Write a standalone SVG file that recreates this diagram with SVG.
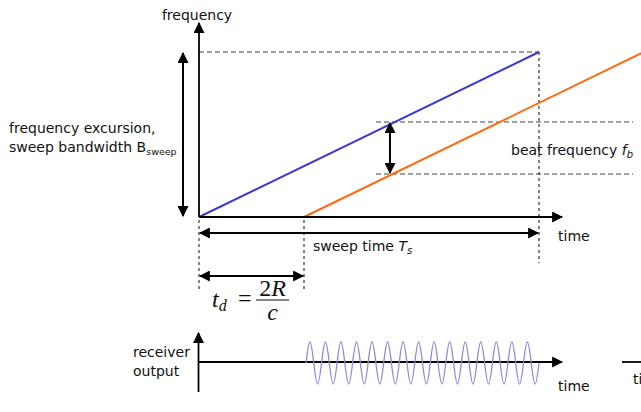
<svg xmlns="http://www.w3.org/2000/svg" width="641" height="412" viewBox="0 0 641 412">
<style>
.t{font-family:"DejaVu Sans",Verdana,sans-serif;font-size:14px;fill:#111}
.it{font-style:italic}
.ax{stroke:#000;stroke-width:1.8;fill:none}
.dash{stroke:#444;stroke-width:1.2;stroke-dasharray:5,3;fill:none}
.vdash{stroke:#222;stroke-width:1.1;stroke-dasharray:3,3;fill:none}
.arr{stroke:#000;stroke-width:2;fill:none}
.m{font-family:"Liberation Serif","Times New Roman",serif;font-size:24px;fill:#111}
</style>
<defs>
<marker id="ah2" viewBox="0 0 10 10" refX="9" refY="5" markerWidth="11" markerHeight="11" orient="auto-start-reverse" markerUnits="userSpaceOnUse">
<path d="M0,0 L10,5 L0,10 z" fill="#000"/>
</marker>
</defs>
<rect width="641" height="412" fill="#fff"/>
<g id="connectors">
<line class="dash" x1="199" y1="52" x2="539" y2="52"/>
<line class="vdash" x1="539" y1="52" x2="539" y2="263"/>
<line class="dash" x1="376" y1="122" x2="633" y2="122"/>
<line class="dash" x1="376" y1="174" x2="633" y2="174"/>
<line class="vdash" x1="199" y1="220" x2="199" y2="289"/>
<line class="vdash" x1="304" y1="220" x2="304" y2="289"/>
<line x1="199" y1="217" x2="539" y2="52" stroke="#3a3acc" stroke-width="2"/>
<line x1="304" y1="217" x2="645" y2="51.5" stroke="#ff6a10" stroke-width="2"/>
<line class="ax" x1="199" y1="217" x2="199" y2="23" marker-end="url(#ah2)"/>
<line class="ax" x1="199" y1="217" x2="562" y2="217" marker-end="url(#ah2)"/>
<line class="arr" x1="183" y1="53" x2="183" y2="216" marker-start="url(#ah2)" marker-end="url(#ah2)"/>
<line class="arr" x1="390" y1="123" x2="390" y2="173" marker-start="url(#ah2)" marker-end="url(#ah2)"/>
<line class="arr" x1="200" y1="233" x2="538" y2="233" marker-start="url(#ah2)" marker-end="url(#ah2)"/>
<line class="arr" x1="200" y1="276" x2="303" y2="276" marker-start="url(#ah2)" marker-end="url(#ah2)"/>
<line class="ax" x1="198.5" y1="392" x2="198.5" y2="333" marker-end="url(#ah2)"/>
<line class="ax" x1="198.5" y1="362" x2="562" y2="362" marker-end="url(#ah2)"/>
<path d="M306,363 c3.296,-28 4.471,-28 7.767,0 3.296,28 4.471,28 7.767,0 c3.296,-28 4.471,-28 7.767,0 3.296,28 4.471,28 7.767,0 c3.296,-28 4.471,-28 7.767,0 3.296,28 4.471,28 7.767,0 c3.296,-28 4.471,-28 7.767,0 3.296,28 4.471,28 7.767,0 c3.296,-28 4.471,-28 7.767,0 3.296,28 4.471,28 7.767,0 c3.296,-28 4.471,-28 7.767,0 3.296,28 4.471,28 7.767,0 c3.296,-28 4.471,-28 7.767,0 3.296,28 4.471,28 7.767,0 c3.296,-28 4.471,-28 7.767,0 3.296,28 4.471,28 7.767,0 c3.296,-28 4.471,-28 7.767,0 3.296,28 4.471,28 7.767,0 c3.296,-28 4.471,-28 7.767,0 3.296,28 4.471,28 7.767,0 c3.296,-28 4.471,-28 7.767,0 3.296,28 4.471,28 7.767,0 c3.296,-28 4.471,-28 7.767,0 3.296,28 4.471,28 7.767,0 c3.296,-28 4.471,-28 7.767,0 3.296,28 4.471,28 7.767,0 c3.296,-28 4.471,-28 7.767,0 3.296,28 4.471,28 7.767,0 c3.296,-28 4.471,-28 7.767,0 3.296,28 4.471,28 7.767,0" fill="none" stroke="#8a8ae0" stroke-width="1.3"/>
<line x1="622" y1="362" x2="641" y2="362" stroke="#000" stroke-width="1.8"/>
</g>
<g id="labels">
<text class="t" x="197" y="20" text-anchor="middle">frequency</text>
<text class="t" x="9" y="133">frequency excursion,</text>
<text class="t" x="9" y="152">sweep bandwidth B<tspan font-size="9.5" dy="3">sweep</tspan></text>
<text class="t" x="511" y="155">beat frequency <tspan class="it">f</tspan><tspan class="it" font-size="10" dy="3">b</tspan></text>
<text class="t" x="313" y="251">sweep time <tspan class="it">T</tspan><tspan class="it" font-size="10" dy="3">s</tspan></text>
<text class="t" x="558" y="241">time</text>
<text class="t" x="133" y="357">receiver</text>
<text class="t" x="133" y="376">output</text>
<text class="t" x="558" y="391">time</text>
<text class="t" x="633" y="384">ti</text>
</g>
<g id="formula">
<text class="m" x="212" y="307"><tspan font-style="italic">t</tspan><tspan font-style="italic" font-size="16" dy="4">d</tspan></text>
<text class="m" x="238" y="306">=</text>
<line x1="256" y1="300" x2="289" y2="300" stroke="#111" stroke-width="1.2"/>
<text class="m" x="272.5" y="296" text-anchor="middle">2<tspan font-style="italic">R</tspan></text>
<text class="m" x="272.5" y="320" text-anchor="middle" font-style="italic">c</text>
</g>
</svg>
